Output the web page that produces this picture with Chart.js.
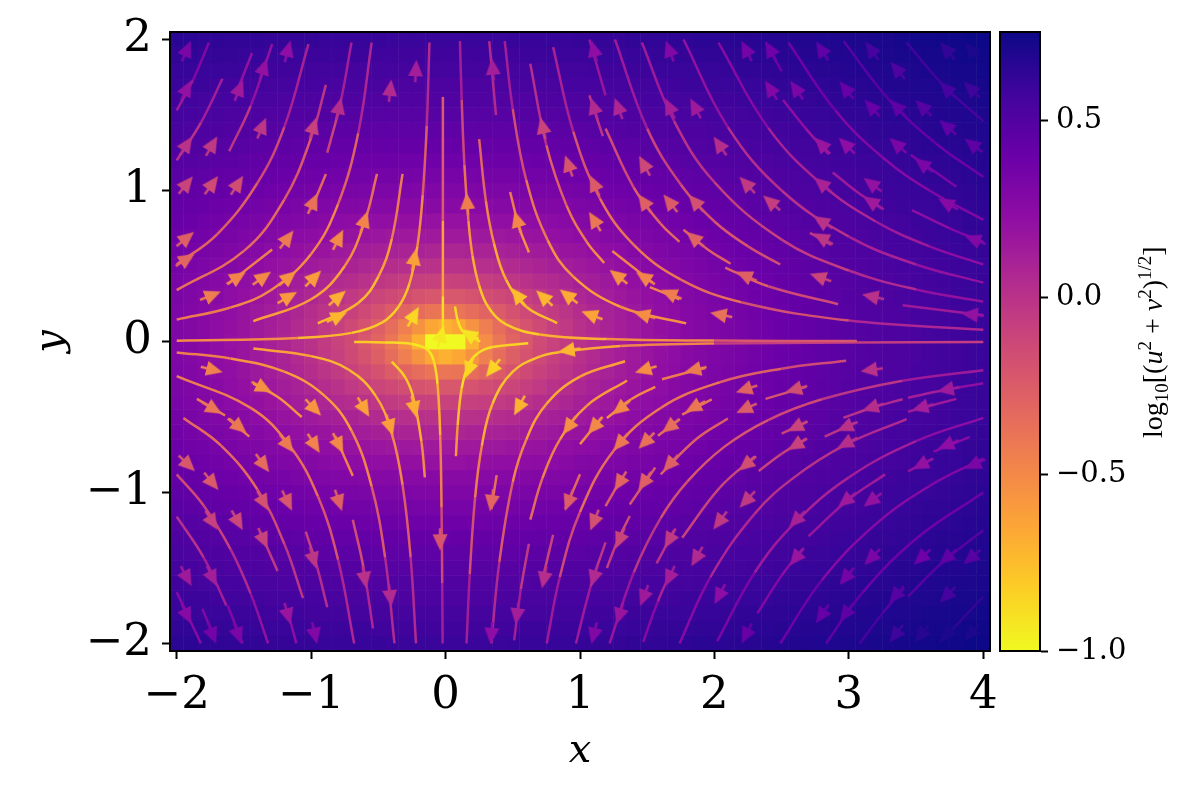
<!DOCTYPE html>
<html>
<head>
<meta charset="utf-8">
<style>
  html, body { margin:0; background:#fff; }
  canvas { position:absolute; left:0; top:0; }
</style>
<script src="https://cdn.jsdelivr.net/npm/chart.js@4"></script>
</head>
<body>
<canvas id="main" width="1200" height="800"></canvas>
<canvas id="cbar" width="1200" height="800"></canvas>
<script>
const xTicks = [-2,-1,0,1,2,3,4];
const yTicks = [-2,-1,0,1,2];
const cbarTicks = [-1,-0.5,0,0.5];
const cbarRange = [-1,0.75];

// plasma stops, 0 -> 1
const plasma = ['#0d0887','#41049d','#6a00a8','#8f0da4','#b12a90','#cc4778','#e16462','#f2844b','#fca636','#fcce25','#f0f921'];

// log10 speed in hundredths, read for |y| = 0..2 (rows) and |x| = 0..4 (columns), step 0.1
const heatTable = [
[-100,-100,-70,-52,-40,-30,-22,-15,-10,-5,0,4,8,11,15,18,20,23,26,28,30,32,34,36,38,40,41,43,45,46,48,49,51,52,53,54,56,57,58,59,60],
[-70,-65,-55,-44,-35,-27,-20,-14,-8,-4,1,5,9,12,15,18,21,23,26,28,30,32,34,36,38,40,41,43,45,46,48,49,51,52,53,54,56,57,58,59,60],
[-40,-39,-35,-30,-25,-19,-14,-9,-5,-1,3,7,10,13,16,19,22,24,27,29,31,33,35,37,39,40,42,44,45,47,48,50,51,52,53,55,56,57,58,59,60],
[-22,-22,-20,-17,-14,-11,-7,-4,0,3,7,10,13,16,18,21,23,26,28,30,32,34,36,38,39,41,43,44,46,47,49,50,51,53,54,55,56,57,59,60,61],
[-10,-9,-8,-7,-5,-3,0,3,5,8,11,13,16,18,21,23,25,27,29,31,33,35,37,39,40,42,43,45,46,48,49,51,52,53,54,56,57,58,59,60,61],
[0,0,1,2,3,5,7,9,11,13,15,17,19,21,24,26,28,29,31,33,35,37,38,40,41,43,44,46,47,49,50,51,53,54,55,56,57,58,59,60,61],
[8,8,9,9,10,11,13,14,16,18,19,21,23,25,27,28,30,32,33,35,37,38,40,41,43,44,46,47,48,50,51,52,53,55,56,57,58,59,60,61,62],
[15,15,15,16,16,17,18,19,21,22,24,25,27,28,30,31,33,34,36,37,39,40,42,43,44,46,47,48,50,51,52,53,54,55,57,58,59,60,61,62,63],
[20,20,21,21,22,22,23,24,25,26,28,29,30,31,33,34,35,37,38,40,41,42,43,45,46,47,48,50,51,52,53,54,55,56,57,59,60,61,61,63,63],
[26,26,26,26,27,27,28,29,29,30,31,32,34,35,36,37,38,39,41,42,43,44,45,47,48,49,50,51,52,53,54,55,57,58,59,60,60,61,62,63,64],
[30,30,30,31,31,31,32,33,33,34,35,36,37,38,39,40,41,42,43,44,45,46,47,48,49,51,52,53,54,55,56,57,58,59,60,61,61,62,63,64,65],
[34,34,34,35,35,35,36,36,37,38,38,39,40,41,42,43,43,44,45,46,47,48,49,50,51,52,53,54,55,56,57,58,59,60,61,62,63,63,64,65,66],
[38,38,38,38,39,39,39,40,40,41,41,42,43,44,44,45,46,47,48,49,49,50,51,52,53,54,55,56,57,58,58,59,60,61,62,63,64,64,65,66,67],
[41,42,42,42,42,42,43,43,43,44,44,45,46,46,47,48,48,49,50,51,52,52,53,54,55,56,57,57,58,59,60,61,62,62,63,64,65,66,66,67,68],
[45,45,45,45,45,45,46,46,46,47,47,48,48,49,50,50,51,52,52,53,54,54,55,56,57,57,58,59,60,61,61,62,63,64,64,65,66,67,67,68,69],
[48,48,48,48,48,48,49,49,49,50,50,50,51,51,52,53,53,54,54,55,56,56,57,58,58,59,60,61,61,62,63,63,64,65,66,66,67,68,68,69,70],
[51,51,51,51,51,51,51,52,52,52,53,53,53,54,54,55,55,56,56,57,58,58,59,60,60,61,62,62,63,64,64,65,66,66,67,68,68,69,70,70,71],
[53,53,53,53,53,54,54,54,54,55,55,55,56,56,57,57,57,58,59,59,60,60,61,61,62,63,63,64,64,65,66,66,67,68,68,69,69,70,71,71,72],
[56,56,56,56,56,56,56,56,57,57,57,58,58,58,59,59,60,60,60,61,61,62,63,63,64,64,65,65,66,66,67,68,68,69,69,70,71,71,72,72,73],
[58,58,58,58,58,58,59,59,59,59,59,60,60,60,61,61,62,62,62,63,63,64,64,65,65,66,66,67,67,68,68,69,70,70,71,71,72,72,73,74,74],
[60,60,60,60,60,61,61,61,61,61,62,62,62,62,63,63,63,64,64,65,65,65,66,66,67,67,68,68,69,69,70,70,71,71,72,73,73,74,74,75,75]
];

// streamlines as flat x,y lists, by quadrant
const linesUpperLeft = [
[-1.76,1.98,-1.88,1.73,-2,1.53],
[-1.66,1.74,-1.82,1.45,-2,1.2],
[-1.44,1.91,-1.56,1.64],
[-1.29,1.97,-1.45,1.56,-1.61,1.26],
[-1.02,1.97,-1.2,1.42,-1.4,1.05,-1.7,.71,-2,.51],
[-.89,1.7,-1,1.35,-1.2,.94,-1.5,.6,-2,.34],
[-.7,1.98,-.78,1.59,-.88,1.25],
[-.55,1.98,-.65,1.38,-.8,.91,-1,.58,-1.3,.34,-1.6,.225,-2,.145],
[-.89,1.11,-1,.875],
[-.51,1.11,-.6,.8,-.75,.5,-1,.28,-1.43,.135],
[-.32,1.11,-.4,.68,-.5,.43,-.65,.255,-.95,.12],
[-.12,1.98,-.14,1.43,-.17,.97,-.21,.63,-.27,.38,-.35,.23,-.47,.127,-.7,.057,-1.1,.023,-2,.005],
[-.02,1.62,-.02,.8,-.02,.3,-.02,.07],
[-1.62,.38,-1.29,.61]
];
const linesUpperRight = [
[.107,1.99,.12,1.6,.14,1.17,.17,.8,.2,.57,.25,.37,.32,.225,.45,.114,.7,.047,1.2,.016,2,.006,3.06,.0025],
[.325,1.99,.375,1.5],
[.44,1.99,.5,1.54,.6,1.07,.76,.67,.95,.43,1.3,.23,1.79,.12],
[.25,1.34,.3,.93,.36,.65,.45,.41,.6,.23,.83,.122],
[.63,1.84,.75,1.3,.9,.9,1.05,.66,1.18,.52],
[.8,1.95,.95,1.39,1.15,.945,1.4,.64,1.75,.41,2.2,.26,3,.139,4,.078],
[1.24,.6,1.54,.39],
[1.52,.36,1.74,.28],
[.48,.99,.55,.75,.62,.59],
[1.26,2,1.5,1.41,1.75,1.04,2,.795,2.25,.63,2.49,.51],
[1.46,1.98,1.7,1.46,2,1.055,2.5,.675,3,.47,3.5,.345,4,.264],
[1.77,2,2.1,1.42,2.5,1,3,.695,3.5,.51,4,.39],
[2.03,1.98,2.4,1.415,2.8,1.04,3.2,.795,3.6,.63,4,.51],
[2.55,1.98,2.9,1.53,3.25,1.22,3.6,1,4,.806],
[2.96,1.99,3.3,1.6,3.65,1.31,4,1.09],
[3.43,1.98,3.7,1.7,4,1.46],
[2.38,1.98,2.5,1.79],
[2.51,1.6,2.68,1.41,2.85,1.24],
[2.88,1.12,3.07,.985,3.26,.875],
[3.47,.87,3.75,.75,4,.66],
[2.71,.72,2.87,.64],
[3.46,1.236,3.8,1.025],
[1.77,.74,1.95,.61,2.12,.515],
[2.08,.49,2.4,.366,2.92,.247],
[3.4,.24,4,.174],
[1.07,2,1.19,1.63],
[1.07,1.63,1.17,1.36],
[1.19,1.41,1.4,1.02,1.6,.78,1.74,.66],
[.07,.232,.09,.14,.12,.076,.17,.038,.243,.018]
];
const linesLowerLeft = [
[-.022,-2,-.025,-1.6,-.03,-1.1,-.04,-.62,-.06,-.28,-.09,-.123,-.14,-.05,-.25,-.016,-.45,-.006,-.68,-.003],
[-.38,-2,-.45,-1.43,-.55,-.96,-.7,-.59,-.9,-.36,-1.2,-.2,-1.6,-.113,-2,-.0725],
[-.68,-2,-.8,-1.445,-.95,-1.025,-1.16,-.69,-1.45,-.44,-2,-.23],
[-.22,-2,-.26,-1.43,-.32,-.95,-.4,-.61,-.52,-.36,-.72,-.187,-1,-.097,-1.43,-.047],
[-.154,-.9,-.18,-.66,-.24,-.37,-.3,-.237,-.4,-.133],
[-1.85,-.38,-1.64,-.49],
[-1.62,-.51,-1.46,-.63],
[-1.06,-1.7,-1.2,-1.34,-1.4,-.98,-1.67,-.69,-1.95,-.506],
[-1.43,-.28,-1.25,-.366,-1.07,-.5],
[-.82,-.63,-.69,-.89],
[-1.32,-2,-1.45,-1.67,-1.6,-1.375,-1.8,-1.086,-2,-.88],
[-1.63,-1.75,-1.8,-1.43,-2,-1.16],
[-1.82,-2,-2,-1.66],
[-1.81,-1.77,-1.72,-1.96],
[-1.62,-1.75,-1.51,-2],
[-1.38,-1.26,-1.25,-1.52],
[-1.04,-1.26,-.96,-1.48,-.88,-1.76],
[-.69,-1.18,-.61,-1.5,-.54,-1.9],
[-1.18,-1.77,-1.11,-2]
];
const linesLowerRight = [
[.156,-2,.18,-1.54,.22,-1.03,.27,-.69,.35,-.41,.5,-.2,.7,-.1,.85,-.07,1.3,-.03,2,-.0125,4,-.003],
[.077,-.76,.09,-.555,.12,-.31,.17,-.156,.24,-.078,.35,-.037,.615,-.012],
[.34,-2,.4,-1.46,.5,-.93,.6,-.65,.75,-.414,1,-.233,1.335,-.131],
[.63,-1.18,.72,-.907,.85,-.65,1.05,-.426,1.35,-.258],
[.38,-.885,.34,-1.11],
[.51,-1.98,.56,-1.64,.62,-1.34],
[.8,-1.28,.72,-1.58],
[1,-.88,.89,-1.11],
[.752,-2,.85,-1.56,1,-1.13,1.25,-.723,1.6,-.44,2.04,-.27,2.5,-.18,2.98,-.127],
[.97,-2,1.08,-1.62,1.19,-1.33],
[1.37,-1.156,1.28,-1.32,1.2,-1.5],
[1.19,-1.09,1.32,-.89],
[1.37,-1.08,1.56,-.835],
[1.22,-2,1.4,-1.53,1.6,-1.17,1.8,-.926,2.08,-.693,2.4,-.52,2.8,-.383,3.4,-.26,4,-.19],
[1.76,-1.3,2.04,-.968,2.3,-.762],
[1.57,-1.47,1.7,-1.25],
[1.47,-1.99,1.58,-1.72,1.68,-1.52],
[2.38,-.38,2.68,-.3],
[3.44,-.373,3.7,-.323,4,-.276],
[2.96,-.505,3.18,-.437,3.4,-.382],
[3.44,-.465,3.8,-.38],
[2.5,-.61,2.69,-.53],
[2.82,-.63,3.05,-.537],
[1.74,-2,1.97,-1.56,2.3,-1.14,2.6,-.895,2.97,-.686,3.43,-.514],
[2.02,-1.985,2.3,-1.53,2.6,-1.2,3,-.9,3.5,-.66,4,-.506],
[3.63,-.73,3.9,-.632],
[3.44,-.86,3.63,-.775],
[2.49,-2,2.8,-1.58,3.2,-1.21,3.6,-.957,4,-.775],
[2.83,-2,3.1,-1.665,3.5,-1.306,4,-1],
[3.08,-2,3.25,-1.8,3.41,-1.634],
[3.44,-1.69,3.7,-1.46,4,-1.25],
[3.68,-1.99,4,-1.69],
[2.32,-1.8,2.5,-1.55,2.65,-1.38],
[2.7,-1.29,3,-1.045,3.27,-.88],
[2.33,-.857,2.5,-.744,2.68,-.647],
[1.2,-.507,1.38,-.383,1.56,-.3],
[1.58,-.625,1.74,-.515],
[1.76,-.485,1.98,-.383],
[1.6,-.88,1.87,-.643,2.1,-.51],
[1.61,-.25,1.93,-.175],
[1,-.68,1.16,-.505]
];

// arrow head positions, flat x,y, one row of the picture per line
const arrowXY = [
-1.92,1.94,-1.17,1.94,1.1,1.94,1.66,1.94,2.23,1.94,2.41,1.94,2.79,1.94,3.16,1.94,3.72,1.94,3.9,1.94,
-1.35,1.82,-.22,1.81,.35,1.82,3.35,1.81,
-1.92,1.68,-1.53,1.68,-.41,1.68,2.41,1.68,2.6,1.68,2.97,1.68,3.72,1.68,3.9,1.68,
-.79,1.56,1.1,1.56,1.28,1.56,1.66,1.56,1.85,1.56,3.16,1.56,3.35,1.56,3.54,1.56,
-1.36,1.43,-.98,1.43,.72,1.43,3.72,1.43,
-1.92,1.31,-1.73,1.31,2.03,1.31,2.79,1.31,2.97,1.31,3.35,1.31,3.91,1.31,
.91,1.18,1.47,1.18,3.54,1.18,
-1.92,1.05,-1.73,1.05,-1.54,1.05,1.1,1.05,2.23,1.05,2.79,1.05,3.16,1.05,
-.98,.93,.16,.93,1.47,.93,1.66,.93,1.85,.93,2.41,.93,3.16,.93,3.72,.92,
-.6,.81,.53,.81,1.1,.81,2.79,.8,
-1.92,.69,-1.17,.69,-.79,.69,1.84,.69,2.79,.69,3.92,.68,
-1.92,.55,-.23,.56,
-1.54,.43,-1.35,.43,-1.16,.43,-.97,.43,1.27,.44,1.47,.43,2.22,.44,2.77,.43,
-1.73,.31,-1.16,.3,-.79,.3,.53,.31,.72,.3,.9,.31,1.66,.32,3.16,.3,
-.79,.17,-.23,.18,1.07,.18,1.46,.18,2.03,.18,3.9,.18,
-.03,.05,.17,.05,
.9,-.06,
-1.72,-.19,.17,-.19,.34,-.19,1.47,-.19,1.84,-.19,3.15,-.19,
-1.35,-.31,2.22,-.32,2.59,-.32,3.72,-.32,
-1.72,-.45,-.97,-.45,-.6,-.45,-.23,-.45,.54,-.44,1.29,-.45,1.84,-.44,2.22,-.45,3.16,-.44,3.53,-.44,
-1.53,-.57,-.41,-.57,.91,-.57,1.1,-.57,1.66,-.57,2.6,-.57,2.97,-.57,
-1.17,-.69,-.97,-.69,-.79,-.69,1.29,-.68,1.48,-.67,2.6,-.69,2.97,-.68,3.72,-.69,
-1.91,-.82,-1.35,-.82,1.66,-.82,2.23,-.82,3.53,-.82,3.92,-.82,
-1.73,-.94,1.29,-.94,1.47,-.94,
-1.35,-1.07,-1.17,-1.07,-.79,-1.07,.34,-1.07,.91,-1.07,2.23,-1.06,2.97,-1.06,3.16,-1.06,
-1.73,-1.2,-1.54,-1.2,1.1,-1.2,2.03,-1.2,2.6,-1.19,
-1.35,-1.32,-.04,-1.33,1.29,-1.32,1.66,-1.32,
-.98,-1.45,1.86,-1.44,2.6,-1.44,3.16,-1.44,3.53,-1.44,3.72,-1.44,3.9,-1.44,
-1.92,-1.57,-1.73,-1.57,-.6,-1.58,.73,-1.58,1.1,-1.57,1.66,-1.57,2.97,-1.57,
-.41,-1.7,1.47,-1.7,2.03,-1.69,3.34,-1.69,3.72,-1.69,
-1.92,-1.82,-1.17,-1.82,.53,-1.82,1.29,-1.82,2.79,-1.82,2.97,-1.81,
-1.73,-1.95,-1.54,-1.95,-.97,-1.95,.34,-1.95,1.1,-1.95,2.23,-1.95,3.34,-1.95,3.53,-1.95,3.72,-1.95,3.9,-1.94
];

const FONT = "'DejaVu Serif'";
const TICK_SIZE = 45;
const TITLE_SIZE = 40;

function hexRgb(h) {
  return [1,3,5].map(i => parseInt(h.slice(i,i+2),16));
}
function plasmaAt(t) {
  t = Math.min(1, Math.max(0, t));
  const pos = t * (plasma.length-1);
  const i = Math.min(plasma.length-2, Math.floor(pos));
  const a = hexRgb(plasma[i]), b = hexRgb(plasma[i+1]), f = pos-i;
  return 'rgb(' + a.map((v,k) => Math.round(v+(b[k]-v)*f)).join(',') + ')';
}
function heatColor(v) {
  return plasmaAt(1-(v-cbarRange[0])/(cbarRange[1]-cbarRange[0]));
}
function heatAt(x, y) {
  const r = heatTable[Math.min(20, Math.round(Math.abs(y)*10))];
  return r[Math.min(40, Math.round(Math.abs(x)*10))]/100;
}
// lines and arrows run on the speed, not its log
function flowColor(x, y) {
  return plasmaAt(1-Math.pow(10, heatAt(x,y))/5.66);
}
function pairs(flat) {
  const out = [];
  for (let i=0; i<flat.length; i+=2) out.push({x:flat[i], y:flat[i+1]});
  return out;
}

const cells = [], cellColors = [];
for (let iy=-20; iy<=20; iy++) {
  for (let ix=-20; ix<=40; ix++) {
    cells.push({x:ix/10, y:[iy/10-0.052, iy/10+0.052]});
    cellColors.push(heatColor(heatTable[Math.abs(iy)][Math.abs(ix)]/100));
  }
}

const lineSets = [...linesUpperLeft, ...linesUpperRight, ...linesLowerLeft, ...linesLowerRight].map(l => ({
  type:'scatter',
  data:pairs(l),
  showLine:true,
  tension:0.4,
  borderWidth:2.5,
  borderColor:'#b12a90',
  pointRadius:0,
  order:2,
  segment:{
    borderColor:c => {
      const d = c.chart.data.datasets[c.datasetIndex].data;
      const a = d[c.p0DataIndex], b = d[c.p1DataIndex];
      return flowColor((a.x+b.x)/2, (a.y+b.y)/2);
    }
  }
}));

// arrow glyph: head plus short tail, pointing up
const glyphs = {};
function arrowGlyph(color) {
  if (glyphs[color]) return glyphs[color];
  const c = document.createElement('canvas');
  c.width = 44; c.height = 44;
  const g = c.getContext('2d');
  g.fillStyle = color; g.strokeStyle = color; g.lineWidth = 2.5;
  g.beginPath(); g.moveTo(22,13.5); g.lineTo(29.5,30); g.lineTo(14.5,30); g.closePath(); g.fill();
  g.beginPath(); g.moveTo(22,29); g.lineTo(22,36); g.stroke();
  glyphs[color] = c;
  return c;
}

const axisBase = {
  grid:{display:true, drawOnChartArea:false, drawTicks:true, tickLength:8, tickWidth:2, tickColor:'#000', offset:false},
  border:{display:true, color:'#000', width:2},
  offset:false
};
const minusSign = v => String(v).replace('-','\u2212');
const noOverflow = s => { s.paddingLeft = s.paddingRight = s.paddingTop = s.paddingBottom = 0; };

const framePlugin = {
  id:'frame',
  afterDraw(chart) {
    const a = chart.chartArea, g = chart.ctx;
    g.save(); g.strokeStyle = '#000'; g.lineWidth = 2;
    g.strokeRect(a.left, a.top, a.right-a.left, a.bottom-a.top);
    g.restore();
  }
};

new Chart(document.getElementById('main'), {
  type:'bar',
  data:{
    datasets:[
      {data:cells, backgroundColor:cellColors, borderWidth:0, barPercentage:1.04, categoryPercentage:1, order:3},
      ...lineSets,
      {
        type:'scatter',
        data:pairs(arrowXY),
        order:1,
        pointRadius:8,
        pointStyle:c => arrowGlyph(flowColor(c.raw.x, c.raw.y)),
        // heading follows the flow as it looks on screen
        rotation:c => {
          const s = c.chart.scales;
          const px = Math.abs(s.x.getPixelForValue(1)-s.x.getPixelForValue(0));
          const py = Math.abs(s.y.getPixelForValue(1)-s.y.getPixelForValue(0));
          return Math.atan2(-c.raw.x*px, 2*c.raw.y*py)*180/Math.PI;
        }
      }
    ]
  },
  options:{
    responsive:false,
    animation:false,
    events:[],
    layout:{padding:{top:32, right:210, left:0, bottom:0}},
    plugins:{legend:{display:false}, tooltip:{enabled:false}},
    scales:{
      x:{
        ...axisBase,
        type:'linear', min:-2.05, max:4.05,
        afterBuildTicks:s => { s.ticks = xTicks.map(v => ({value:v})); },
        afterFit:s => { s.height = 149; noOverflow(s); },
        ticks:{color:'#000', padding:10, autoSkip:false, maxRotation:0, font:{family:FONT, size:TICK_SIZE}, callback:minusSign},
        title:{display:true, text:'x', color:'#000', padding:{top:0, bottom:24}, font:{family:FONT, size:TITLE_SIZE, style:'italic'}}
      },
      y:{
        ...axisBase,
        type:'linear', min:-2.05, max:2.05,
        afterBuildTicks:s => { s.ticks = yTicks.map(v => ({value:v})); },
        afterFit:s => { s.width = 170; noOverflow(s); },
        ticks:{color:'#000', padding:10, autoSkip:false, font:{family:FONT, size:TICK_SIZE}, callback:minusSign},
        title:{display:true, text:'y', color:'#000', padding:{top:28, bottom:0}, font:{family:FONT, size:TITLE_SIZE, style:'italic'}}
      }
    }
  },
  plugins:[framePlugin]
});

// colourbar label, set in pieces for the sub and superscripts
const cbarLabel = [
  ['log','',28,0],['10','',19,-6],['[(','',28,0],['u','italic ',28,0],['2','',19,11],[' + ','',28,0],
  ['v','italic ',28,0],['2','',19,11],[')','',28,0],['1/2','',19,11],[']','',28,0]
];
const cbarLabelPlugin = {
  id:'cbarLabel',
  afterDraw(chart) {
    const g = chart.ctx;
    g.save();
    g.translate(1162, 438);
    g.rotate(-Math.PI/2);
    g.fillStyle = '#000';
    g.textBaseline = 'alphabetic';
    let at = 0;
    cbarLabel.forEach(([t,style,size,rise]) => {
      g.font = style + size + "px 'Liberation Serif'";
      g.fillText(t, at, -rise);
      at += g.measureText(t).width;
    });
    g.restore();
  }
};

new Chart(document.getElementById('cbar'), {
  type:'bar',
  data:{
    labels:['cbar'],
    datasets:[{
      data:[cbarRange],
      barPercentage:1,
      categoryPercentage:1,
      backgroundColor:c => {
        const s = c.chart.scales.y;
        if (!c.chart.chartArea || !s) return '#000';
        const y0 = s.getPixelForValue(cbarRange[0]), y1 = s.getPixelForValue(cbarRange[1]);
        if (!isFinite(y0) || !isFinite(y1)) return '#000';
        const gr = c.chart.ctx.createLinearGradient(0, y0, 0, y1);
        plasma.forEach((col,i) => gr.addColorStop(i/(plasma.length-1), plasma[plasma.length-1-i]));
        return gr;
      }
    }]
  },
  options:{
    responsive:false,
    animation:false,
    events:[],
    layout:{padding:{top:32, left:1000, bottom:149, right:0}},
    plugins:{legend:{display:false}, tooltip:{enabled:false}},
    scales:{
      x:{display:false},
      y:{
        ...axisBase,
        position:'right',
        min:cbarRange[0], max:cbarRange[1],
        afterBuildTicks:s => { s.ticks = cbarTicks.map(v => ({value:v})); },
        afterFit:s => { s.width = 160; noOverflow(s); },
        ticks:{color:'#000', padding:8, autoSkip:false, font:{family:FONT, size:29}, callback:v => minusSign(v.toFixed(1))}
      }
    }
  },
  plugins:[framePlugin, cbarLabelPlugin]
});
</script>
</body>
</html>
